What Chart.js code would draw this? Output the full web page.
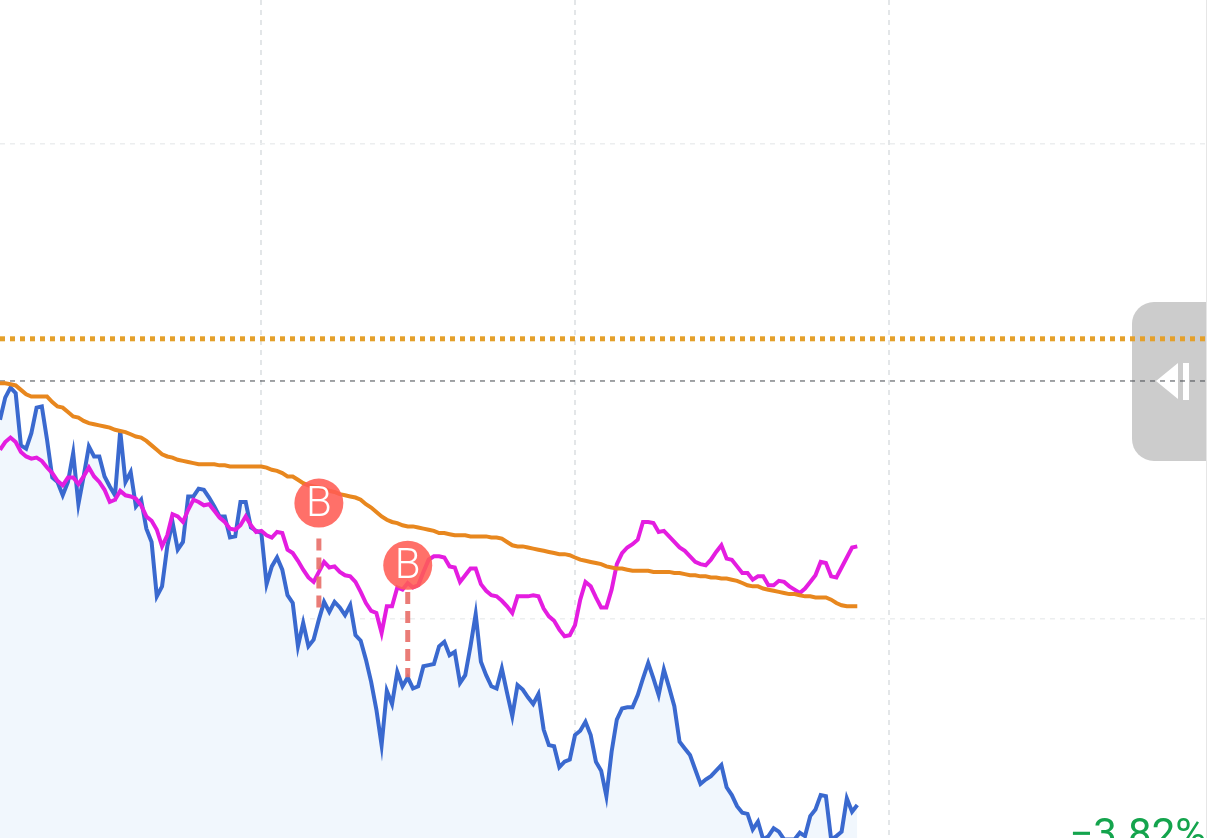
<!DOCTYPE html>
<html>
<head>
<meta charset="utf-8">
<title>Returns</title>
<script src="https://cdn.jsdelivr.net/npm/chart.js@4/dist/chart.umd.min.js"></script>
<style>
    html, body { margin: 0; padding: 0; background: #fff; overflow: hidden; }
    #wrap { position: relative; width: 1211px; height: 838px; }
    #handle { position: absolute; left: 1132px; top: 302px; width: 74px; height: 159px; background: #cccccc; border-radius: 22px 0 0 22px; }
    #arrow { position: absolute; left: 24px; top: 61px; width: 0; height: 0; border-top: 18.5px solid transparent; border-bottom: 18.5px solid transparent; border-right: 22px solid #fff; }
    #bar { position: absolute; left: 51px; top: 61px; width: 6px; height: 37px; background: #fff; }
    #edge { position: absolute; left: 1206px; top: 0; width: 1px; height: 838px; background: #e6e6e6; }
    canvas { position: absolute; left: 0; top: 0; }
</style>
</head>
<body>
<div id="wrap">
    <div id="handle"><div id="arrow"></div><div id="bar"></div></div>
    <div id="edge"></div>
    <canvas id="chart" width="1207" height="838"></canvas>
</div>
<script>
// all values are returns in basis points
const strategyBp = [-35,-15,-6,-11,-58,-61,-47,-24,-23,-53,-87,-91,-103,-91,-65,-111,-86,-59,-68,-68,-86,-95,-103,-45,-91,-82,-113,-107,-133,-145,-194,-185,-149,-127,-152,-145,-104,-104,-97,-98,-105,-113,-122,-122,-141,-140,-109,-109,-132,-135,-137,-183,-167,-159,-170,-193,-200,-239,-218,-239,-233,-215,-199,-208,-199,-204,-211,-202,-229,-234,-251,-271,-296,-328,-279,-291,-262,-275,-267,-277,-275,-257,-256,-255,-239,-235,-247,-244,-272,-265,-239,-210,-253,-265,-275,-277,-259,-281,-302,-274,-278,-285,-291,-282,-314,-328,-329,-348,-343,-341,-319,-315,-307,-319,-343,-351,-374,-334,-305,-295,-294,-294,-283,-268,-254,-268,-283,-260,-276,-293,-325,-331,-337,-350,-363,-359,-356,-351,-346,-366,-373,-383,-389,-390,-404,-397,-413,-410,-403,-406,-413,-413,-413,-407,-410,-392,-386,-373,-374,-413,-410,-406,-376,-388,-382];
const averageBp = [-62,-55,-51,-55,-64,-68,-70,-69,-72,-78,-83,-90,-94,-87,-87,-93,-86,-78,-86,-91,-98,-109,-107,-99,-103,-104,-106,-112,-122,-126,-134,-149,-139,-120,-122,-127,-116,-107,-109,-112,-111,-117,-123,-127,-133,-134,-130,-122,-130,-136,-135,-139,-141,-136,-137,-152,-155,-162,-170,-177,-181,-172,-163,-168,-167,-172,-175,-176,-181,-190,-200,-207,-209,-227,-203,-203,-186,-188,-182,-186,-184,-172,-161,-158,-158,-159,-167,-168,-181,-175,-169,-169,-183,-189,-193,-194,-198,-203,-209,-194,-194,-194,-193,-194,-205,-212,-216,-224,-230,-229,-220,-197,-181,-185,-195,-204,-204,-188,-165,-155,-150,-147,-143,-127,-127,-128,-136,-135,-140,-145,-150,-153,-158,-163,-165,-166,-161,-154,-148,-160,-161,-167,-173,-173,-179,-176,-176,-184,-184,-180,-181,-185,-188,-191,-187,-181,-175,-163,-164,-176,-177,-168,-159,-150,-149];
const benchmarkBp = [-2,-2,-3,-4,-8,-12,-14,-14,-14,-14,-19,-23,-24,-28,-32,-33,-36,-38,-39,-40,-41,-42,-44,-45,-46,-48,-50,-51,-54,-58,-62,-66,-68,-69,-71,-72,-73,-74,-75,-75,-75,-75,-76,-76,-77,-77,-77,-77,-77,-77,-77,-78,-80,-81,-83,-86,-86,-89,-92,-94,-95,-96,-97,-99,-100,-102,-103,-104,-105,-107,-111,-114,-118,-122,-125,-127,-128,-130,-131,-131,-132,-133,-134,-135,-137,-137,-138,-139,-139,-139,-140,-140,-140,-140,-141,-141,-142,-145,-148,-149,-149,-150,-151,-152,-153,-154,-155,-156,-156,-157,-159,-161,-162,-163,-164,-165,-167,-168,-169,-169,-170,-171,-171,-171,-171,-172,-172,-172,-172,-173,-173,-174,-175,-175,-176,-176,-177,-177,-178,-178,-179,-180,-182,-184,-185,-185,-187,-188,-189,-190,-191,-192,-192,-193,-194,-194,-195,-195,-195,-197,-200,-202,-203,-203,-203];

const buyDays = [61, 78];
const buyBadgeBp = [-110, -166];
const buyStemTopBp = [-142, -190];
const buyStemEndBp = [-206, -267];
const targetBp = 38;
const gridDays = [50, 110, 170];
const gridBp = [-214, 214];
const lastReturnLabel = '−3.82%';

const xMax = 230.9;     // visible trading days across the canvas
const yMax = 343.2;
const yMin = -411.7;

const toPoints = values => values.map((v, i) => ({ x: i, y: v }));

const stemSets = buyDays.map((day, i) => ({
    data: [{ x: day, y: buyStemTopBp[i] }, { x: day, y: buyStemEndBp[i] }],
    borderColor: 'rgba(232,110,104,0.9)',
    borderWidth: 5,
    borderDash: [12, 7],
    pointRadius: 0,
    order: 2
}));

// badge letters, and the last return label which runs off the bottom edge
const labelPlugin = {
    id: 'labelPlugin',
    afterDatasetsDraw(chart) {
        const { ctx, scales: { x, y } } = chart;
        ctx.save();
        ctx.fillStyle = '#fff';
        ctx.font = '300 42px Roboto';
        ctx.textAlign = 'center';
        ctx.textBaseline = 'middle';
        buyDays.forEach((day, i) => {
            ctx.fillText('B', x.getPixelForValue(day), y.getPixelForValue(buyBadgeBp[i]) + 2);
        });
        ctx.fillStyle = '#14a44d';
        ctx.font = '400 42px Roboto';
        ctx.textAlign = 'right';
        ctx.textBaseline = 'alphabetic';
        ctx.fillText(lastReturnLabel, 1206, 848);
        ctx.restore();
    }
};

new Chart(document.getElementById('chart').getContext('2d'), {
    type: 'line',
    data: {
        datasets: [
            {
                data: [{ x: 0, y: targetBp }, { x: xMax, y: targetBp }],
                borderColor: '#e4a02b',
                borderWidth: 5,
                borderDash: [5, 5],
                pointRadius: 0,
                order: 6
            },
            {
                data: [{ x: 0, y: 0 }, { x: xMax, y: 0 }],
                borderColor: '#43484d',
                borderWidth: 1,
                borderDash: [5, 5],
                pointRadius: 0,
                order: 7
            },
            {
                data: toPoints(strategyBp),
                borderColor: '#3a69cf',
                backgroundColor: '#f1f7fd',
                borderWidth: 4,
                fill: 'start',
                pointRadius: 0,
                order: 5
            },
            {
                data: toPoints(averageBp),
                borderColor: '#e41de0',
                borderWidth: 4,
                pointRadius: 0,
                order: 4
            },
            {
                data: toPoints(benchmarkBp),
                borderColor: '#e8871e',
                borderWidth: 4,
                pointRadius: 0,
                order: 3
            },
            ...stemSets,
            {
                data: buyDays.map((day, i) => ({ x: day, y: buyBadgeBp[i] })),
                showLine: false,
                pointRadius: 24.5,
                pointHoverRadius: 24.5,
                pointBorderWidth: 0,
                pointBackgroundColor: 'rgba(255,92,84,0.88)',
                order: 1
            }
        ]
    },
    plugins: [labelPlugin],
    options: {
        responsive: false,
        animation: false,
        events: [],
        layout: { padding: 0, autoPadding: false },
        plugins: { legend: { display: false }, tooltip: { enabled: false } },
        scales: {
            x: {
                type: 'linear',
                min: 0,
                max: xMax,
                afterBuildTicks: axis => { axis.ticks = gridDays.map(value => ({ value })); },
                ticks: { display: false },
                border: { display: false, dash: [5, 5] },
                grid: { color: '#e3e6e8', lineWidth: 2, drawTicks: false, tickLength: 0 }
            },
            y: {
                min: yMin,
                max: yMax,
                afterBuildTicks: axis => { axis.ticks = gridBp.map(value => ({ value })); },
                ticks: { display: false },
                border: { display: false, dash: [5, 5] },
                grid: { color: '#eceeef', lineWidth: 1.5, drawTicks: false, tickLength: 0 }
            }
        }
    }
});
</script>
</body>
</html>
